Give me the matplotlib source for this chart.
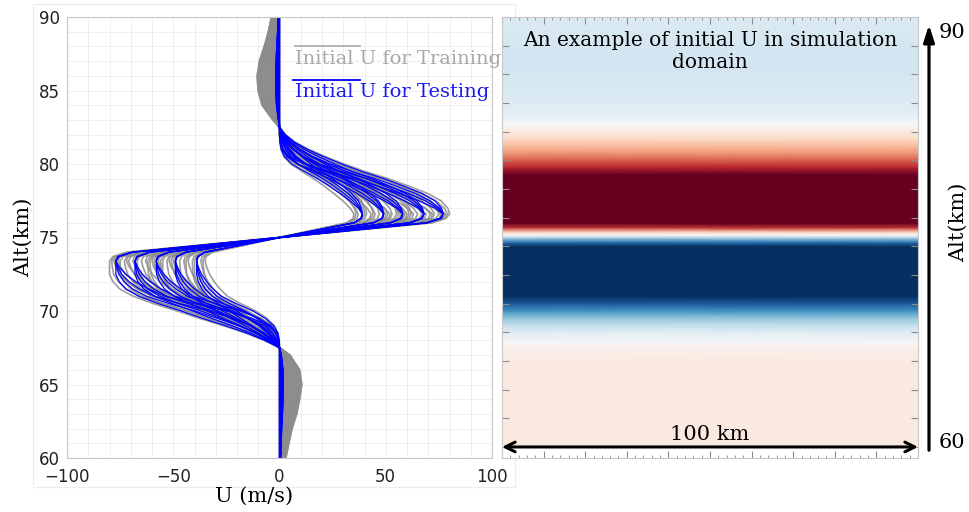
import numpy as np
import matplotlib
matplotlib.use("Agg")
import matplotlib.pyplot as plt
from matplotlib.patches import Rectangle, FancyArrowPatch

# normalised shape of the main jet (distance from 75 km)
D_MAIN = [0, 0.5, 1.0, 1.3, 1.6, 2.0, 2.5, 3.0, 3.5, 4.0, 4.5, 5.0, 5.5, 6.0, 6.5, 7.0, 7.5]
UP_NARROW = [0, 0.45, 0.9, 0.99, 1.0, 0.95, 0.85, 0.73, 0.6, 0.46, 0.3, 0.15, 0.06, 0.02, 0.005, 0, 0]
UP_WIDE = [0, 0.45, 0.9, 0.98, 1.0, 0.99, 0.95, 0.87, 0.76, 0.64, 0.5, 0.38, 0.27, 0.17, 0.09, 0.035, 0]
LO_NARROW = [0, 0.45, 0.9, 0.99, 1.0, 0.98, 0.94, 0.88, 0.8, 0.7, 0.52, 0.32, 0.17, 0.07, 0.02, 0.004, 0]
LO_WIDE = [0, 0.45, 0.9, 0.98, 1.0, 1.0, 1.0, 0.98, 0.94, 0.86, 0.74, 0.6, 0.47, 0.33, 0.2, 0.09, 0]

# outer (side) lobes below 67.5 km and above 82.5 km
LOBE_LO_ALT = [60, 61, 62, 63, 64, 65, 66, 67]
LOBE_LO = [0.28, 0.42, 0.56, 0.77, 0.9, 1.0, 0.9, 0.47]
LOBE_UP_ALT = [83, 84, 85, 86, 87, 88, 89, 90]
LOBE_UP = [0.3, 0.78, 0.96, 1.0, 0.9, 0.68, 0.5, 0.36]

# training profiles: peak amplitude (m/s), width mix (0 narrow .. 1 wide), side lobe (m/s)
TRAIN_AMP = [35, 37, 39, 41, 43, 45, 47, 49, 51, 53, 55, 57, 59, 61, 63, 65, 67, 69,
             71, 73, 75, 77, 79, 80, 36, 44, 52, 60, 68, 76, 40, 50, 62, 72, 78, 56]
TRAIN_WIDTH = [0.0, 0.3, 0.6, 0.9, 0.2, 0.5, 0.8, 0.1, 0.4, 0.7, 1.0, 0.25, 0.55, 0.85, 0.15, 0.45, 0.75, 0.05,
               0.35, 0.65, 0.95, 0.5, 0.8, 1.0, 0.7, 0.9, 0.0, 0.3, 0.6, 0.2, 1.0, 0.0, 0.9, 0.1, 0.4, 0.75]
TRAIN_LOBE = [2, 8.5, 5, 10.5, 0, 7, 3, 9.5, 6, 1, 8, 4, 10, 2.5, 9, 5.5, 0.5, 7.5,
              3.5, 10, 6.5, 1.5, 8, 4.5, 10.5, 3, 9, 0, 6, 9.5, 2, 7, 5, 1, 8.5, 4]

# testing profiles
TEST_AMP = [39, 39, 39, 39, 49, 49, 49, 49, 58, 58, 58, 58, 68, 68, 68, 68, 77, 77, 77, 77]
TEST_WIDTH = [0.0, 0.35, 0.7, 1.0, 0.1, 0.45, 0.8, 1.0, 0.0, 0.3, 0.65, 0.95, 0.15, 0.5, 0.8, 1.0, 0.0, 0.4, 0.7, 1.0]
TEST_LOBE = [0.0, 0.6, 1.2, 1.8, 0.3, 0.9, 1.5, 0.0, 0.6, 1.2, 1.8, 0.3, 0.9, 1.5, 0.0, 0.6, 1.2, 1.8, 0.3, 0.9]

# example profile shown in the simulation domain
EX_ALT = [60, 62, 64, 66, 67, 67.2, 67.5, 68, 68.5, 69, 69.5, 70, 70.5, 71, 72, 73, 74, 74.3, 74.6, 74.8,
          75, 75.3, 75.6, 76, 77, 78, 79, 79.5, 80, 80.5, 81, 81.5, 82, 82.5, 83, 84, 86, 88, 90]
EX_U = [2.5, 2.5, 2.5, 2.5, 1, 0, -1, -3, -6, -10, -15, -21, -27, -30, -33, -33, -27, -18, -8, 0,
        6, 18, 27, 30, 33, 33, 26, 19, 15, 11, 8, 5, 2.5, 0, -2, -3.5, -4.5, -4.5, -3.5]

D = np.array(D_MAIN)
alt = np.concatenate([LOBE_LO_ALT, 75 - D[::-1], 75 + D[1:], LOBE_UP_ALT])


def profile(amp, w, lobe):
    up = (1 - w) * np.array(UP_NARROW) + w * np.array(UP_WIDE)
    lo = (1 - w) * np.array(LO_NARROW) + w * np.array(LO_WIDE)
    core = np.concatenate([-lo[::-1], up[1:]])
    return np.concatenate([lobe * np.array(LOBE_LO), amp * core, -lobe * np.array(LOBE_UP)])


serif = "DejaVu Serif"
fig = plt.figure(figsize=(9.69, 5.12), dpi=100)
fig.patches.append(Rectangle((33 / 969, 1 - 487 / 512), 482 / 969, 483 / 512, transform=fig.transFigure,
                             fill=False, edgecolor="#ececec", lw=0.8, zorder=-5))

# ---- left panel: profiles
ax = fig.add_axes([67 / 969, 1 - 458 / 512, 425 / 969, 441 / 512])
for a, w, l in zip(TRAIN_AMP, TRAIN_WIDTH, TRAIN_LOBE):
    ax.plot(profile(a, w, l), alt, color="#8c8c8c", lw=1.2, alpha=0.85)
for a, w, l in zip(TEST_AMP, TEST_WIDTH, TEST_LOBE):
    ax.plot(profile(a, w, l), alt, color="#0000ff", lw=0.9)

ax.set_xlim(-100, 100)
ax.set_ylim(60, 90)
ax.set_xticks([-100, -50, 0, 50, 100])
ax.set_yticks([60, 65, 70, 75, 80, 85, 90])
ax.set_xticks(np.arange(-100, 101, 10), minor=True)
ax.set_yticks(np.arange(60, 91, 1), minor=True)
ax.grid(which="both", color="#ececec", lw=0.6)
ax.set_axisbelow(True)
ax.tick_params(which="both", length=0, labelsize=12, colors="#222222")
ax.tick_params(axis="x", pad=7)
ax.tick_params(axis="y", pad=5)
for s in ax.spines.values():
    s.set_color("#c8c8c8")
ax.set_xlabel("U (m/s)", family=serif, fontsize=15)
ax.xaxis.set_label_coords(0.44, -0.065)
ax.set_ylabel("Alt(km)", family=serif, fontsize=15)
ax.yaxis.set_label_coords(-0.08, 0.5)

# legend written as text with a line over it
ax.plot([0.536, 0.689], [0.934, 0.934], transform=ax.transAxes, color="#b0b0b0", lw=1.3)
ax.text(0.536, 0.905, "Initial U for Training", transform=ax.transAxes, family=serif,
        fontsize=14, color="#a8a8a8", va="center", ha="left", clip_on=False)
ax.plot([0.532, 0.689], [0.857, 0.857], transform=ax.transAxes, color="#0000ff", lw=1.3)
ax.text(0.536, 0.83, "Initial U for Testing", transform=ax.transAxes, family=serif,
        fontsize=14, color="#1a1aee", va="center", ha="left")

# ---- right panel: simulation domain
ax2 = fig.add_axes([502 / 969, 1 - 458 / 512, 416 / 969, 441 / 512])
X, Y = np.meshgrid([0, 100], EX_ALT)
C = np.column_stack([EX_U, EX_U])
ax2.pcolormesh(X, Y, C, cmap="RdBu_r", vmin=-25, vmax=25, shading="gouraud")
ax2.set_xlim(0, 100)
ax2.set_ylim(59.23, 90)
ax2.set_xticks(np.arange(0, 101, 10))
ax2.set_xticks(np.arange(0, 101, 2), minor=True)
ax2.set_yticks(np.arange(60, 91, 2))
ax2.tick_params(which="both", direction="in", top=True, right=True, labelbottom=False,
                labelleft=False, colors="#8c8c8c")
ax2.tick_params(which="major", length=5, width=0.8)
ax2.tick_params(which="minor", length=2.5, width=0.6)
for s in ax2.spines.values():
    s.set_color("#c8c8c8")

ax2.text(50, 87.6, "An example of initial U in simulation\ndomain", family=serif, fontsize=14.5,
         ha="center", va="center", linespacing=1.15)
ax2.annotate("", xy=(0, 60), xytext=(100, 60),
             arrowprops=dict(arrowstyle="<->,head_length=0.7,head_width=0.35", lw=2.2, color="black",
                             shrinkA=0, shrinkB=0))
ax2.text(50, 60.2, "100 km", family=serif, fontsize=15, ha="center", va="bottom")

# vertical altitude arrow at the right
fig.add_artist(FancyArrowPatch((929 / 969, 1 - 453 / 512), (929 / 969, 1 - 22 / 512),
                               transform=fig.transFigure, arrowstyle="-|>,head_length=0.5,head_width=0.16",
                               mutation_scale=20, lw=2.3, color="black"))
fig.text(952 / 969, 1 - 33 / 512, "90", family=serif, fontsize=15, ha="center", va="center")
fig.text(952 / 969, 1 - 442 / 512, "60", family=serif, fontsize=15, ha="center", va="center")
fig.text(958 / 969, 1 - 222 / 512, "Alt(km)", family=serif, fontsize=15, ha="center", va="center",
         rotation=90)

fig.savefig("out.png", dpi=100)
